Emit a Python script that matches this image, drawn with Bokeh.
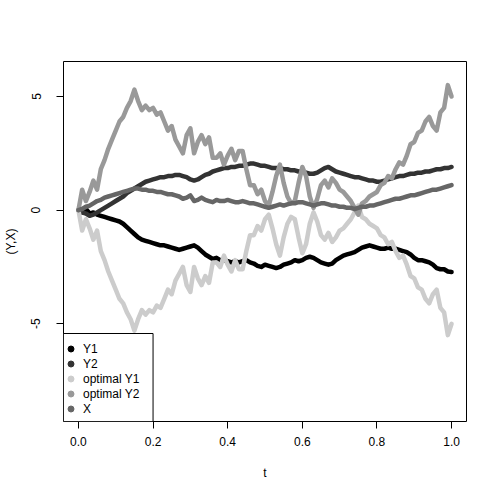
from bokeh.plotting import figure
from bokeh.models import Legend, LegendItem, FixedTicker, Range1d, BoxAnnotation
from bokeh.embed import file_html
from bokeh.resources import INLINE

t = [i / 100 for i in range(101)]

y1 = [0.0, -0.1, 0.05, -0.15, -0.1, -0.2, -0.25, -0.3, -0.35, -0.4,
      -0.45, -0.5, -0.6, -0.75, -0.9, -1.05, -1.2, -1.3, -1.35, -1.4,
      -1.45, -1.5, -1.55, -1.55, -1.6, -1.65, -1.7, -1.75, -1.7, -1.65,
      -1.6, -1.55, -1.65, -1.8, -1.95, -2.05, -2.15, -2.1, -2.2, -2.2,
      -2.25, -2.3, -2.25, -2.3, -2.25, -2.2, -2.3, -2.35, -2.45, -2.5,
      -2.4, -2.45, -2.5, -2.55, -2.5, -2.4, -2.35, -2.3, -2.2, -2.25,
      -2.2, -2.1, -2.05, -2.1, -2.2, -2.3, -2.35, -2.4, -2.35, -2.2,
      -2.1, -2.0, -1.95, -1.9, -1.85, -1.75, -1.65, -1.6, -1.55, -1.6,
      -1.65, -1.7, -1.7, -1.65, -1.7, -1.7, -1.75, -1.8, -1.85, -1.95,
      -2.1, -2.2, -2.2, -2.25, -2.3, -2.4, -2.55, -2.6, -2.6, -2.7,
      -2.72]

y2 = [0.0, -0.1, -0.15, -0.25, -0.2, -0.1, 0.0, 0.1, 0.2, 0.3,
      0.4, 0.5, 0.6, 0.75, 0.85, 0.95, 1.05, 1.15, 1.25, 1.3,
      1.35, 1.4, 1.45, 1.45, 1.5, 1.5, 1.55, 1.55, 1.5, 1.45,
      1.35, 1.3, 1.35, 1.45, 1.55, 1.6, 1.7, 1.75, 1.8, 1.85,
      1.85, 1.9, 1.9, 1.95, 1.95, 2.0, 2.05, 2.05, 2.0, 1.95,
      1.95, 1.9, 1.85, 1.85, 1.85, 1.8, 1.8, 1.75, 1.75, 1.7,
      1.7, 1.65, 1.6, 1.6, 1.65, 1.75, 1.85, 1.9, 1.8, 1.7,
      1.65, 1.6, 1.55, 1.5, 1.45, 1.45, 1.4, 1.35, 1.3, 1.3,
      1.25, 1.25, 1.3, 1.35, 1.4, 1.45, 1.5, 1.5, 1.55, 1.6,
      1.6, 1.65, 1.65, 1.7, 1.7, 1.75, 1.8, 1.8, 1.85, 1.85,
      1.9]

opt_y2 = [0.0, 0.9, 0.4, 0.8, 1.3, 0.9, 1.8, 2.2, 2.7, 3.1,
          3.5, 3.9, 4.1, 4.5, 4.8, 5.3, 4.8, 4.4, 4.6, 4.4,
          4.5, 4.2, 4.3, 3.9, 3.5, 3.7, 3.1, 2.8, 2.5, 3.3,
          3.6, 2.5, 3.0, 3.3, 2.9, 3.2, 2.3, 2.3, 2.5, 2.0,
          2.4, 2.7, 2.2, 2.6, 2.6, 1.8, 1.1, 1.1, 0.7, 0.9,
          0.4, 0.2, 0.8, 1.5, 2.0, 1.2, 0.6, 0.3, 0.4, 1.2,
          1.9, 1.5, 0.6, 0.1, 0.5, 1.1, 1.3, 1.0, 1.4, 1.2,
          0.9, 0.8, 0.6, 0.4, 0.1, -0.2, 0.3, 0.4, 0.6, 0.7,
          0.8, 1.1, 1.2, 1.5, 1.4, 1.8, 2.1, 2.0, 2.4, 2.9,
          3.0, 3.4, 3.5, 3.9, 4.1, 3.7, 3.5, 4.3, 4.5, 5.5,
          5.0]

opt_y1 = [0.0, -0.9, -0.4, -0.8, -1.3, -0.9, -1.8, -2.2, -2.7, -3.1,
          -3.5, -3.9, -4.1, -4.5, -4.8, -5.3, -4.8, -4.4, -4.6, -4.4,
          -4.5, -4.2, -4.3, -3.9, -3.5, -3.7, -3.1, -2.8, -2.5, -3.3,
          -3.6, -2.5, -3.0, -3.3, -2.9, -3.2, -2.3, -2.3, -2.5, -2.0,
          -2.4, -2.7, -2.2, -2.6, -2.6, -1.8, -1.1, -1.1, -0.7, -0.9,
          -0.4, -0.2, -0.8, -1.5, -2.0, -1.2, -0.6, -0.3, -0.4, -1.2,
          -1.9, -1.5, -0.6, -0.1, -0.5, -1.1, -1.3, -1.0, -1.4, -1.2,
          -0.9, -0.8, -0.6, -0.4, -0.1, 0.2, -0.3, -0.4, -0.6, -0.7,
          -0.8, -1.1, -1.2, -1.5, -1.4, -1.8, -2.1, -2.0, -2.4, -2.9,
          -3.0, -3.4, -3.5, -3.9, -4.1, -3.7, -3.5, -4.3, -4.5, -5.5,
          -5.0]

x_proc = [0.0, 0.05, 0.15, 0.2, 0.3, 0.4, 0.45, 0.55, 0.6, 0.65,
          0.7, 0.75, 0.8, 0.85, 0.9, 0.95, 0.95, 0.9, 0.9, 0.85,
          0.85, 0.8, 0.8, 0.75, 0.7, 0.7, 0.65, 0.6, 0.5, 0.55,
          0.65, 0.4, 0.45, 0.55, 0.45, 0.4, 0.35, 0.45, 0.4, 0.4,
          0.45, 0.4, 0.35, 0.35, 0.4, 0.35, 0.3, 0.3, 0.25, 0.2,
          0.15, 0.1, 0.15, 0.2, 0.25, 0.2, 0.25, 0.3, 0.3, 0.35,
          0.35, 0.3, 0.25, 0.2, 0.25, 0.3, 0.3, 0.25, 0.2, 0.2,
          0.15, 0.15, 0.1, 0.1, 0.05, 0.1, 0.15, 0.15, 0.2, 0.2,
          0.25, 0.3, 0.35, 0.4, 0.45, 0.5, 0.5, 0.55, 0.6, 0.65,
          0.65, 0.7, 0.75, 0.8, 0.85, 0.9, 0.9, 0.95, 1.0, 1.05,
          1.1]

series_names = ["Y1", "Y2", "optimal Y1", "optimal Y2", "X"]
series_colors = ["#000000", "#333333", "#CCCCCC", "#999999", "#666666"]
series_values = [y1, y2, opt_y1, opt_y2, x_proc]

x_ticks = [0.0, 0.2, 0.4, 0.6, 0.8, 1.0]
x_tick_labels = ["0.0", "0.2", "0.4", "0.6", "0.8", "1.0"]
y_ticks = [-5, 0, 5]
y_tick_labels = ["-5", "0", "5"]

FONT = "Liberation Sans"
X0, X1 = -0.04, 1.04
Y0, Y1 = -9.30, 6.54
FRAME_W, FRAME_H = 405, 360

p = figure(width=482, height=482, output_backend="svg", toolbar_location=None,
           x_range=Range1d(X0, X1), y_range=Range1d(Y0, Y1),
           min_border_left=61, min_border_right=16, min_border_top=61,
           min_border_bottom=61)
p.background_fill_color = "white"
p.border_fill_color = "white"
p.outline_line_color = "black"
p.outline_line_width = 1
p.xgrid.visible = False
p.ygrid.visible = False

for ax in (p.xaxis[0], p.yaxis[0]):
    ax.axis_line_color = None
    ax.major_tick_in = 0
    ax.major_tick_out = 7
    ax.major_tick_line_color = "black"
    ax.minor_tick_line_color = None
    ax.major_label_text_font = FONT
    ax.major_label_text_font_size = "12px"
    ax.major_label_text_color = "black"
    ax.axis_label_text_font = FONT
    ax.axis_label_text_font_size = "12px"
    ax.axis_label_text_font_style = "normal"
    ax.axis_label_text_color = "black"

p.xaxis[0].ticker = FixedTicker(ticks=x_ticks)
p.xaxis[0].major_label_overrides = dict(zip(x_ticks, x_tick_labels))
p.xaxis[0].major_label_standoff = 8
p.xaxis[0].axis_label = "t"
p.xaxis[0].axis_label_standoff = 17

p.yaxis[0].ticker = FixedTicker(ticks=y_ticks)
p.yaxis[0].major_label_overrides = dict(zip(y_ticks, y_tick_labels))
p.yaxis[0].major_label_orientation = "vertical"
p.yaxis[0].major_label_standoff = 16
p.yaxis[0].axis_label = "(Y,X)"
p.yaxis[0].axis_label_standoff = 11

items = []
for name, col, vals in zip(series_names, series_colors, series_values):
    p.line(t, vals, line_color=col, line_width=4.5, line_join="round", line_cap="round")
nan = float("nan")
for name, col in zip(series_names, series_colors):
    r = p.scatter(x=[nan], y=[nan], marker="circle", size=6, fill_color=col, line_color=col)
    items.append(LegendItem(label=name, renderers=[r]))

# legend frame (90 x 88 px, anchored to the bottom-left corner of the plot box)
box_right = X0 + 90 * (X1 - X0) / FRAME_W
box_top = Y0 + 88 * (Y1 - Y0) / FRAME_H
p.add_layout(BoxAnnotation(left=X0, right=box_right, bottom=Y0, top=box_top,
                           fill_color="white", fill_alpha=1.0,
                           line_color="black", line_width=1, line_alpha=1.0))

legend = Legend(items=items, location=(0, 5), margin=0, padding=2,
                spacing=0, glyph_width=15, glyph_height=15, label_height=15,
                label_width=62, label_standoff=5,
                label_text_font=FONT, label_text_font_size="12px",
                label_text_color="black",
                border_line_color=None,
                background_fill_alpha=0.0)
p.add_layout(legend, "center")

open("out.html", "w").write(file_html(p, INLINE))
